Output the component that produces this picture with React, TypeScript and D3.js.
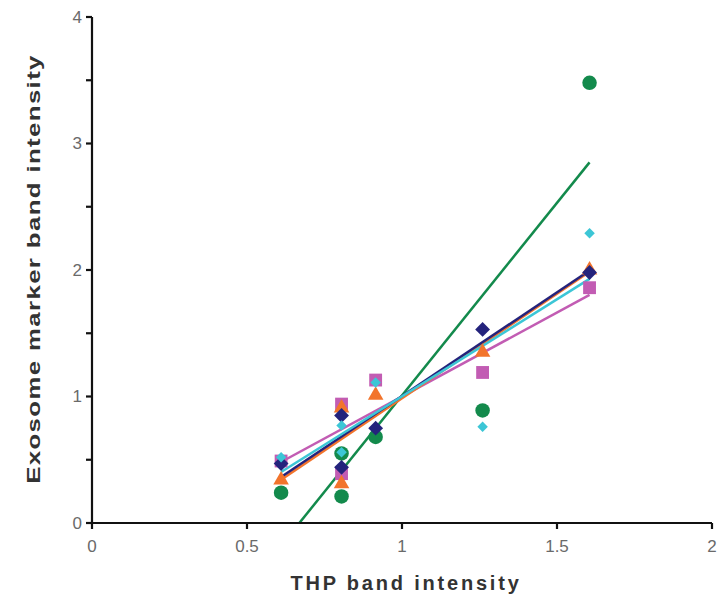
import React from 'react';
import * as d3 from 'd3';

// THP band intensity (x) for the six samples
const thp = [0.61, 0.805, 0.805, 0.915, 1.26, 1.605];

// exosome marker intensities, one array per marker
const green = [0.24, 0.55, 0.21, 0.68, 0.89, 3.48];
const magenta = [0.49, 0.94, 0.39, 1.13, 1.19, 1.86];
const orange = [0.34, 0.91, 0.31, 1.01, 1.35, 2.0];
const navy = [0.47, 0.85, 0.44, 0.75, 1.53, 1.98];
const cyan = [0.52, 0.77, 0.56, 1.11, 0.76, 2.29];

const xTicks = [0, 0.5, 1, 1.5, 2];
const yTicks = [0, 1, 2, 3, 4];
const yMinor = [0.5, 1.5, 2.5, 3.5];

const series = [
  { name: 'green', values: green, color: '#138a4c', shape: 'circle' },
  { name: 'magenta', values: magenta, color: '#c25cb3', shape: 'square' },
  { name: 'orange', values: orange, color: '#f2742c', shape: 'triangle' },
  { name: 'navy', values: navy, color: '#24237c', shape: 'diamond' },
  { name: 'cyan', values: cyan, color: '#3cc6d6', shape: 'smalldiamond' },
];

const W = 722;
const H = 600;
const left = 92;
const right = 712;
const top = 17;
const bottom = 523;

const fit = (xs: number[], ys: number[]) => {
  const mx = d3.mean(xs)!;
  const my = d3.mean(ys)!;
  let sxy = 0;
  let sxx = 0;
  xs.forEach((x, i) => {
    sxy += (x - mx) * (ys[i] - my);
    sxx += (x - mx) * (x - mx);
  });
  const b = sxy / sxx;
  return (x: number) => my + b * (x - mx);
};

const marker = (shape: string) => {
  if (shape === 'circle') return d3.symbol(d3.symbolCircle, 165)();
  if (shape === 'square') return d3.symbol(d3.symbolSquare, 165)();
  if (shape === 'triangle') return d3.symbol(d3.symbolTriangle, 105)();
  if (shape === 'diamond') return d3.symbol(d3.symbolSquare, 110)();
  return d3.symbol(d3.symbolSquare, 55)();
};

export default function App() {
  const x = d3.scaleLinear().domain([0, 2]).range([left, right]);
  const y = d3.scaleLinear().domain([0, 4]).range([bottom, top]);
  const xmin = d3.min(thp)!;
  const xmax = d3.max(thp)!;
  const line = d3.line<number[]>().x(d => x(d[0])).y(d => y(d[1]));

  return (
    <svg width={W} height={H} style={{ position: 'absolute', left: 0, top: 0, background: '#fff' }}
      fontFamily="Liberation Sans, Arial, sans-serif">
      <defs>
        <clipPath id="plot">
          <rect x={left} y={top} width={right - left} height={bottom - top} />
        </clipPath>
      </defs>

      {/* regression lines */}
      <g clipPath="url(#plot)">
        {series.map(s => {
          const f = fit(thp, s.values);
          const pts = [[xmin, f(xmin)], [xmax, f(xmax)]];
          return (
            <path key={s.name} d={line(pts) as string} stroke={s.color} strokeWidth={2.5} fill="none" />
          );
        })}
      </g>

      {/* markers */}
      {series.map(s => (
        <g key={s.name} fill={s.color}>
          {s.values.map((v, i) => (
            <path key={i} d={marker(s.shape) as string}
              transform={`translate(${x(thp[i])},${y(v)})${s.shape.includes('diamond') ? ' rotate(45)' : ''}`} />
          ))}
        </g>
      ))}

      {/* axes */}
      <g stroke="#111" strokeWidth={2.2}>
        <line x1={left} x2={left} y1={top} y2={bottom + 1} />
        <line x1={left - 1} x2={right} y1={bottom} y2={bottom} />
        {yTicks.map(t => (
          <line key={t} x1={left - 6} x2={left} y1={y(t)} y2={y(t)} />
        ))}
        {yMinor.map(t => (
          <line key={t} x1={left - 6} x2={left} y1={y(t)} y2={y(t)} />
        ))}
        {xTicks.map(t => (
          <line key={t} x1={x(t)} x2={x(t)} y1={bottom} y2={bottom + 6} />
        ))}
      </g>

      <g fill="#6a6a6a" fontSize={17}>
        {yTicks.map(t => (
          <text key={t} x={left - 10} y={y(t)} dy="0.35em" textAnchor="end">{t}</text>
        ))}
        {xTicks.map(t => (
          <text key={t} x={x(t)} y={bottom + 29} textAnchor="middle">{t}</text>
        ))}
      </g>

      <text x={406} y={590} textAnchor="middle" fontWeight="bold" fontSize={20}
        fill="#333" letterSpacing={2.8}>THP band intensity</text>
      <text transform={`translate(40,269) rotate(-90) scale(1.36,1)`} textAnchor="middle"
        fontWeight="bold" fontSize={19} fill="#333" letterSpacing={1}>Exosome marker band intensity</text>
    </svg>
  );
}
